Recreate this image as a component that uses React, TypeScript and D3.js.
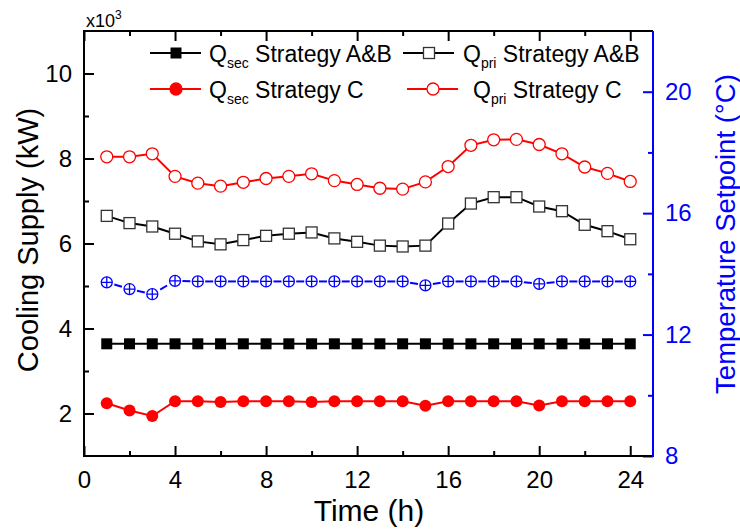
import React, { useEffect, useRef } from 'react';
import * as d3 from 'd3';

// hours of the day (x axis)
const hours = [1, 2, 3, 4, 5, 6, 7, 8, 9, 10, 11, 12, 13, 14, 15, 16, 17, 18, 19, 20, 21, 22, 23, 24];

// cooling supply, x10^3 kW
const qSecAB = [3.64, 3.64, 3.64, 3.64, 3.64, 3.64, 3.64, 3.64, 3.64, 3.64, 3.64, 3.64,
  3.64, 3.64, 3.64, 3.64, 3.64, 3.64, 3.64, 3.64, 3.64, 3.64, 3.64, 3.64];
const qPriAB = [6.65, 6.48, 6.40, 6.23, 6.05, 5.98, 6.08, 6.18, 6.23, 6.26, 6.12, 6.04,
  5.95, 5.93, 5.95, 6.47, 6.94, 7.09, 7.09, 6.87, 6.76, 6.44, 6.29, 6.10];
const qSecC = [2.24, 2.07, 1.94, 2.29, 2.29, 2.27, 2.29, 2.29, 2.29, 2.27, 2.29, 2.29,
  2.29, 2.29, 2.18, 2.29, 2.29, 2.29, 2.29, 2.19, 2.29, 2.29, 2.29, 2.29];
const qPriC = [8.04, 8.04, 8.11, 7.58, 7.42, 7.35, 7.44, 7.53, 7.58, 7.64, 7.48, 7.39,
  7.30, 7.28, 7.45, 7.81, 8.31, 8.44, 8.45, 8.33, 8.11, 7.80, 7.65, 7.46];

// temperature setpoint, degC (right axis)
const setpoint = [13.72, 13.5, 13.33, 13.77, 13.75, 13.75, 13.75, 13.75, 13.75, 13.75, 13.75, 13.75,
  13.75, 13.75, 13.62, 13.75, 13.75, 13.75, 13.75, 13.67, 13.75, 13.75, 13.75, 13.75];

// tick values
const xMajor = [0, 4, 8, 12, 16, 20, 24];
const xMinor = [2, 6, 10, 14, 18, 22];
const yMajor = [2, 4, 6, 8, 10];
const yMinor = [3, 5, 7, 9];
const rMajor = [8, 12, 16, 20];
const rMinor = [10, 14, 18];

const FONT = "'Liberation Sans', Arial, Helvetica, sans-serif";
const BLUE = '#0000ff';
const RED = '#ff0000';

export default function App() {
  const ref = useRef<SVGSVGElement>(null);

  useEffect(() => {
    const svg = d3.select(ref.current);
    svg.selectAll('*').remove();

    const left = 84, right = 653, top = 31, bottom = 456;

    const x = d3.scaleLinear().domain([0, 25]).range([left, right]);
    const yL = d3.scaleLinear().domain([1, 11]).range([bottom, top]);
    const yR = d3.scaleLinear().domain([8, 22]).range([bottom, top]);

    const axisStyle = (g, color) => {
      g.select('.domain').remove();
      g.selectAll('line').attr('stroke', color).attr('stroke-width', 2);
      g.selectAll('text').attr('fill', color).attr('font-family', FONT).attr('font-size', 24);
    };

    // bottom axis
    svg.append('g').attr('transform', `translate(0,${bottom})`)
      .call(d3.axisBottom(x).tickValues(xMajor).tickSize(-10).tickPadding(15).tickFormat(d3.format('d')))
      .call(g => axisStyle(g, '#000'));
    svg.append('g').attr('transform', `translate(0,${bottom})`)
      .call(d3.axisBottom(x).tickValues(xMinor).tickSize(-5).tickFormat(() => ''))
      .call(g => axisStyle(g, '#000'));
    // top axis (mirror ticks)
    svg.append('g').attr('transform', `translate(0,${top})`)
      .call(d3.axisTop(x).tickValues(xMajor).tickSize(-10).tickFormat(() => ''))
      .call(g => axisStyle(g, '#000'));
    svg.append('g').attr('transform', `translate(0,${top})`)
      .call(d3.axisTop(x).tickValues(xMinor).tickSize(-5).tickFormat(() => ''))
      .call(g => axisStyle(g, '#000'));

    // left axis
    svg.append('g').attr('transform', `translate(${left},0)`)
      .call(d3.axisLeft(yL).tickValues(yMajor).tickSize(-10).tickPadding(12).tickFormat(d3.format('d')))
      .call(g => axisStyle(g, '#000'));
    svg.append('g').attr('transform', `translate(${left},0)`)
      .call(d3.axisLeft(yL).tickValues(yMinor).tickSize(-5).tickFormat(() => ''))
      .call(g => axisStyle(g, '#000'));

    // right axis
    svg.append('g').attr('transform', `translate(${right},0)`)
      .call(d3.axisRight(yR).tickValues(rMajor).tickSize(-10).tickPadding(12).tickFormat(d3.format('d')))
      .call(g => axisStyle(g, BLUE));
    svg.append('g').attr('transform', `translate(${right},0)`)
      .call(d3.axisRight(yR).tickValues(rMinor).tickSize(-5).tickFormat(() => ''))
      .call(g => axisStyle(g, BLUE));

    // frame
    svg.append('path').attr('d', `M${right},${top}H${left}V${bottom}H${right}`)
      .attr('fill', 'none').attr('stroke', '#000').attr('stroke-width', 2);
    svg.append('line').attr('x1', right).attr('x2', right).attr('y1', top).attr('y2', bottom + 1)
      .attr('stroke', BLUE).attr('stroke-width', 2);

    // axis titles
    svg.append('text').attr('transform', `translate(38,240) rotate(-90)`)
      .attr('text-anchor', 'middle').attr('font-family', FONT).attr('font-size', 29)
      .text('Cooling Supply (kW)');
    svg.append('text').attr('x', 369).attr('y', 521)
      .attr('text-anchor', 'middle').attr('font-family', FONT).attr('font-size', 30)
      .text('Time (h)');
    svg.append('text').attr('transform', `translate(735,234) rotate(-90)`)
      .attr('text-anchor', 'middle').attr('font-family', FONT).attr('font-size', 27.5)
      .attr('fill', BLUE).text('Temperature Setpoint (°C)');

    const mult = svg.append('text').attr('x', 86).attr('y', 27)
      .attr('font-family', FONT).attr('font-size', 18);
    mult.append('tspan').text('x10');
    mult.append('tspan').attr('font-size', 12).attr('dy', -8).text('3');

    const line = (yScale) => d3.line<number>().x((_, i) => x(hours[i])).y(d => yScale(d));

    // setpoint: dashed, one dash centred between markers
    const sp = svg.append('g');
    for (let i = 0; i < setpoint.length - 1; i++) {
      const x1 = x(hours[i]), y1 = yR(setpoint[i]);
      const x2 = x(hours[i + 1]), y2 = yR(setpoint[i + 1]);
      const L = Math.hypot(x2 - x1, y2 - y1);
      const dash = 8;
      sp.append('line').attr('x1', x1).attr('y1', y1).attr('x2', x2).attr('y2', y2)
        .attr('stroke', BLUE).attr('stroke-width', 2)
        .attr('stroke-dasharray', `${dash} ${L}`)
        .attr('stroke-dashoffset', -(L - dash) / 2);
    }
    const spPts = sp.selectAll('g.pt').data(setpoint).enter().append('g')
      .attr('transform', (d, i) => `translate(${x(hours[i])},${yR(d)})`);
    spPts.append('circle').attr('r', 5.5).attr('fill', '#fff').attr('stroke', BLUE).attr('stroke-width', 1.3);
    spPts.append('path').attr('d', 'M-5.5,0H5.5M0,-5.5V5.5').attr('stroke', BLUE).attr('stroke-width', 1.3);

    // series on left axis
    const drawLine = (vals, color) => svg.append('path').datum(vals)
      .attr('d', line(yL)).attr('fill', 'none').attr('stroke', color).attr('stroke-width', 2);

    drawLine(qPriC, RED);
    svg.append('g').selectAll('circle').data(qPriC).enter().append('circle')
      .attr('cx', (d, i) => x(hours[i])).attr('cy', d => yL(d)).attr('r', 6)
      .attr('fill', '#fff').attr('stroke', RED).attr('stroke-width', 1.3);

    drawLine(qPriAB, '#000');
    svg.append('g').selectAll('rect').data(qPriAB).enter().append('rect')
      .attr('x', (d, i) => x(hours[i]) - 5.5).attr('y', d => yL(d) - 5.5)
      .attr('width', 11).attr('height', 11)
      .attr('fill', '#fff').attr('stroke', '#333').attr('stroke-width', 1.3);

    drawLine(qSecAB, '#000');
    svg.append('g').selectAll('rect').data(qSecAB).enter().append('rect')
      .attr('x', (d, i) => x(hours[i]) - 5.5).attr('y', d => yL(d) - 5.5)
      .attr('width', 11).attr('height', 11).attr('fill', '#000');

    drawLine(qSecC, RED);
    svg.append('g').selectAll('circle').data(qSecC).enter().append('circle')
      .attr('cx', (d, i) => x(hours[i])).attr('cy', d => yL(d)).attr('r', 6)
      .attr('fill', RED);

    // legend
    const legend = [
      { lx: 150, y: 53, tx: 209, sub: 'sec', label: 'Strategy A&B', color: '#000', shape: 'sq', fill: '#000' },
      { lx: 403, y: 53, tx: 463, sub: 'pri', label: 'Strategy A&B', color: '#000', shape: 'sq', fill: '#fff' },
      { lx: 150, y: 89, tx: 209, sub: 'sec', label: 'Strategy C', color: RED, shape: 'ci', fill: RED },
      { lx: 407, y: 89, tx: 473, sub: 'pri', label: 'Strategy C', color: RED, shape: 'ci', fill: '#fff' },
    ];
    legend.forEach(l => {
      const g = svg.append('g');
      g.append('line').attr('x1', l.lx).attr('x2', l.lx + 51).attr('y1', l.y).attr('y2', l.y)
        .attr('stroke', l.color).attr('stroke-width', 2);
      const cx = l.lx + 26;
      if (l.shape === 'sq') {
        g.append('rect').attr('x', cx - 5.5).attr('y', l.y - 5.5).attr('width', 11).attr('height', 11)
          .attr('fill', l.fill).attr('stroke', l.fill === '#fff' ? '#333' : 'none').attr('stroke-width', 1.3);
      } else {
        g.append('circle').attr('cx', cx).attr('cy', l.y).attr('r', 6)
          .attr('fill', l.fill).attr('stroke', RED).attr('stroke-width', 1.3);
      }
      const t = g.append('text').attr('x', l.tx).attr('y', l.y + 9)
        .attr('font-family', FONT).attr('font-size', 23);
      t.append('tspan').text('Q');
      t.append('tspan').attr('font-size', 14).attr('dy', 6).text(l.sub);
      t.append('tspan').attr('dy', -6).text(' ' + l.label);
    });
  }, []);

  return (
    <div style={{ position: 'absolute', left: 0, top: 0 }}>
      <svg ref={ref} width={740} height={530} style={{ display: 'block', background: '#fff' }} />
    </div>
  );
}
